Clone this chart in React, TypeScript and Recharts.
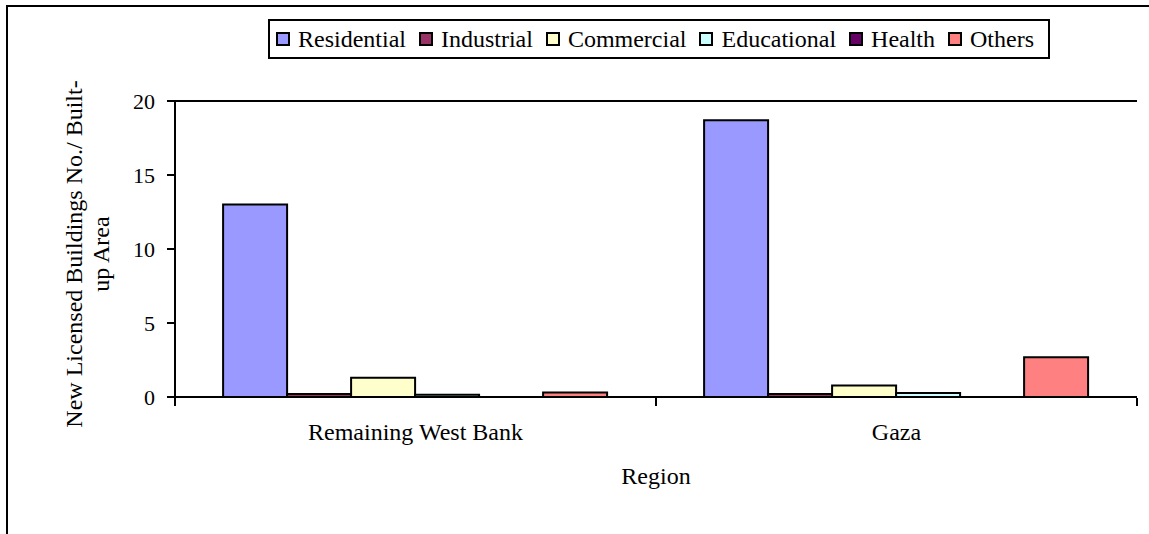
import React from 'react';
import {
    BarChart,
    Bar,
    CartesianGrid,
    XAxis,
    YAxis,
    Legend,
    Label,
} from 'recharts';

const regions = ['Remaining West Bank', 'Gaza'];
const residential = [13.0, 18.7];
const industrial = [0.2, 0.2];
const commercial = [1.3, 0.77];
const educational = [0.15, 0.27];
const health = [0, 0];
const others = [0.3, 2.68];
const yTicks = [0, 5, 10, 15, 20];
const edgeTicks = [0, 1, 2];

const series = [
    { key: 'residential', name: 'Residential', color: '#9999FF', values: residential },
    { key: 'industrial', name: 'Industrial', color: '#993366', values: industrial },
    { key: 'commercial', name: 'Commercial', color: '#FFFFCC', values: commercial },
    { key: 'educational', name: 'Educational', color: '#CCFFFF', values: educational },
    { key: 'health', name: 'Health', color: '#660066', values: health },
    { key: 'others', name: 'Others', color: '#FF8080', values: others },
];

const chartData = regions.map((region, i) => {
    const row: any = { region, edge: i };
    series.forEach((s) => {
        row[s.key] = s.values[i];
    });
    return row;
});

const font = '"Liberation Serif", "Times New Roman", serif';

const renderLegend = () => (
    <div
        style={{
            display: 'flex',
            alignItems: 'center',
            justifyContent: 'space-between',
            boxSizing: 'border-box',
            width: 782,
            height: 40,
            border: '2px solid #000',
            padding: '0 14px 0 6px',
            fontFamily: font,
            fontSize: 24,
            color: '#000',
            background: '#fff',
        }}
    >
        {series.map((s) => (
            <div key={s.key} style={{ display: 'flex', alignItems: 'center' }}>
                <span
                    style={{
                        display: 'inline-block',
                        width: 10,
                        height: 10,
                        border: '2px solid #000',
                        background: s.color,
                        marginRight: 8,
                    }}
                />
                {s.name}
            </div>
        ))}
    </div>
);

const YTitle = (props: any) => {
    const vb = props.viewBox;
    const x = vb.x - 33;
    const cy = vb.y + vb.height / 2 + 5;
    return (
        <text
            transform={`rotate(-90, ${x}, ${cy})`}
            x={x}
            y={cy}
            textAnchor="middle"
            fontFamily={font}
            fontSize={24}
            fill="#000"
        >
            <tspan x={x} dy={0}>New Licensed Buildings No./ Built-</tspan>
            <tspan x={x} dy={27}>up Area</tspan>
        </text>
    );
};

const NoTick = () => <g />;

const App: React.FC = () => {
    return (
        <div style={{ position: 'absolute', left: 0, top: 0, width: 1149, height: 534, background: '#fff' }}>
            <div
                style={{
                    position: 'absolute',
                    left: 6,
                    top: 5,
                    width: 1143,
                    height: 529,
                    borderLeft: '2px solid #000',
                    borderTop: '2px solid #000',
                    boxSizing: 'border-box',
                }}
            />
            <BarChart
                width={1149}
                height={534}
                data={chartData}
                margin={{ top: 101, right: 12, left: 115, bottom: 135 }}
                barCategoryGap="10%"
                barGap={0}
                style={{ position: 'absolute', left: 0, top: 0 }}
            >
                <CartesianGrid vertical={false} stroke="#000" strokeWidth={2} />
                <XAxis
                    xAxisId="edge"
                    dataKey="edge"
                    type="number"
                    domain={[0, 2]}
                    allowDataOverflow
                    ticks={edgeTicks}
                    tick={<NoTick />}
                    axisLine={false}
                    tickLine={{ stroke: '#000', strokeWidth: 2 }}
                    tickSize={8}
                    height={1}
                />
                <XAxis
                    xAxisId="cat"
                    dataKey="region"
                    height={1}
                    tickLine={false}
                    tickSize={0}
                    tickMargin={26}
                    axisLine={{ stroke: '#000', strokeWidth: 2 }}
                    tick={{ fill: '#000', fontSize: 24, fontFamily: font }}
                >
                    <Label
                        value="Region"
                        position="bottom"
                        offset={69}
                        fill="#000"
                        fontSize={24}
                        fontFamily={font}
                    />
                </XAxis>
                <YAxis
                    yAxisId="left"
                    width={60}
                    domain={[0, 20]}
                    ticks={yTicks}
                    tickSize={8}
                    tickMargin={12}
                    axisLine={{ stroke: '#000', strokeWidth: 2 }}
                    tickLine={{ stroke: '#000', strokeWidth: 2 }}
                    tick={{ fill: '#000', fontSize: 22, fontFamily: font }}
                >
                    <Label content={<YTitle />} />
                </YAxis>
                <YAxis
                    yAxisId="right"
                    orientation="right"
                    width={0}
                    domain={[0, 20]}
                    tick={false}
                    tickLine={false}
                    axisLine={{ stroke: '#000', strokeWidth: 2 }}
                />
                <Legend
                    content={renderLegend}
                    layout="horizontal"
                    verticalAlign="middle"
                    align="center"
                    wrapperStyle={{ left: 268, top: 19, width: 782, height: 40 }}
                />
                {series.map((s) => (
                    <Bar
                        key={s.key}
                        xAxisId="cat"
                        yAxisId="left"
                        dataKey={s.key}
                        name={s.name}
                        fill={s.color}
                        stroke="#000"
                        strokeWidth={2}
                        isAnimationActive={false}
                    />
                ))}
            </BarChart>
        </div>
    );
};

export default App;
